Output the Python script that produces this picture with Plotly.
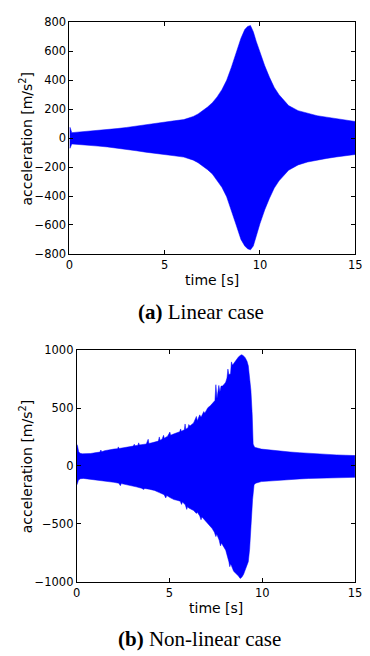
import plotly.graph_objects as go

# ---------------- (a) Linear case: envelope of acceleration ----------------
t_a = [0, 0.03, 0.12, 0.5, 1, 1.5, 2, 2.5, 3, 3.5, 4, 4.5, 5, 5.5, 6, 6.25, 6.5, 6.75, 7, 7.25, 7.5, 7.75,
       8, 8.25, 8.5, 8.75, 9, 9.2, 9.35, 9.5, 9.65, 9.8, 10, 10.25, 10.5, 10.75,
       11, 11.5, 12, 12.5, 13, 13.5, 14, 14.5, 15]
a_upper = [72, 75, 38, 42, 47, 52, 58, 66, 74, 84, 95, 104, 113, 120, 128, 138, 150, 167, 190, 215, 245, 285,
           335, 400, 490, 590, 690, 750, 772, 778, 735, 670, 590, 500, 420, 350,
           300, 225, 190, 170, 155, 145, 135, 125, 115]
a_lower = [-68, -70, -40, -44, -50, -55, -61, -69, -77, -87, -97, -106, -115, -122, -131, -140, -152, -170, -192, -218, -248, -290,
           -340, -405, -495, -600, -700, -745, -765, -772, -745, -680, -590, -495, -415, -345,
           -295, -222, -185, -165, -150, -140, -130, -120, -113]

# ---------------- (b) Non-linear case: envelope of acceleration ----------------
t_b_up = [0.00, 0.04, 0.10, 0.17, 0.30, 0.52, 0.75, 1.05, 1.25, 1.30, 1.34, 1.50, 1.75, 2.00, 2.20, 2.24, 2.28,
          2.50, 2.80, 3.05, 3.10, 3.14, 3.30, 3.34, 3.38, 3.55, 3.75, 3.85, 3.89, 4.05, 4.19, 4.40, 4.45, 4.49,
          4.60, 4.68, 4.72, 4.90, 5.02, 5.06, 5.25, 5.41, 5.55, 5.60, 5.64, 5.80, 5.84, 5.88, 6.00, 6.04, 6.10,
          6.30, 6.45, 6.50, 6.63, 6.70, 6.85, 6.90, 7.07, 7.20, 7.33, 7.45, 7.50, 7.56, 7.66, 7.72, 7.78, 7.85,
          7.95, 8.03, 8.10, 8.15, 8.20, 8.29, 8.34, 8.40, 8.50, 8.60, 8.73, 8.87, 8.97, 9.08, 9.18, 9.25, 9.32,
          9.39, 9.46, 9.51, 9.58, 9.63, 9.95, 10.5, 11, 11.5, 12, 12.5, 13, 13.5, 14, 14.5, 15]
b_upper = [188, 175, 125, 110, 105, 104, 108, 116, 120, 138, 122, 132, 142, 146, 150, 165, 151,
           156, 164, 172, 188, 174, 180, 200, 182, 186, 190, 231, 194, 200, 205, 215, 251, 222,
           232, 265, 240, 258, 293, 266, 278, 287, 296, 320, 300, 312, 363, 318, 330, 358, 345,
           372, 428, 390, 442, 420, 470, 455, 504, 520, 541, 565, 702, 583, 696, 640, 690, 690,
           705, 724, 760, 837, 790, 795, 899, 870, 893, 915, 944, 961, 955, 936, 905, 865, 780,
           653, 442, 189, 165, 160, 146, 135, 127, 121, 115, 109, 104, 100, 96, 93, 90]

t_b_lo = [0.00, 0.04, 0.09, 0.20, 0.35, 0.60, 1.05, 1.40, 1.75, 2.00, 2.27, 2.35, 2.40, 2.65, 2.97, 3.20,
          3.49, 3.62, 3.66, 3.90, 4.19, 4.45, 4.71, 4.80, 4.85, 5.05, 5.24, 5.40, 5.58, 5.65, 5.70, 5.85,
          5.93, 5.98, 6.02, 6.30, 6.45, 6.50, 6.63, 6.70, 6.75, 6.90, 7.16, 7.30, 7.42, 7.50, 7.55, 7.68,
          7.75, 7.80, 8.03, 8.15, 8.20, 8.25, 8.30, 8.46, 8.60, 8.73, 8.81, 8.90, 8.99, 9.10, 9.25, 9.32,
          9.39, 9.48, 9.56, 9.65, 9.95, 10.5, 11, 11.5, 12, 12.5, 13, 13.5, 14, 14.5, 15]
b_lower = [-165, -150, -121, -110, -107, -112, -121, -128, -135, -141, -149, -170, -152, -160, -172, -180,
           -192, -203, -194, -200, -211, -230, -248, -276, -255, -275, -290, -296, -304, -332, -312, -335,
           -375, -350, -361, -385, -410, -400, -431, -465, -440, -475, -516, -540, -572, -610, -590, -642,
           -690, -665, -727, -790, -826, -870, -845, -910, -935, -952, -972, -960, -938, -900, -826, -720,
           -572, -290, -163, -148, -135, -128, -122, -117, -112, -108, -105, -102, -100, -99, -98]

x_ticks = [0, 5, 10, 15]
ya_ticks = [-800, -600, -400, -200, 0, 200, 400, 600, 800]
yb_ticks = [-1000, -500, 0, 500, 1000]

W, H = 370, 656
BLUE = "#0000ff"
TICKFONT = dict(family="DejaVu Sans", size=11.5, color="black")
TITLEFONT = dict(family="DejaVu Sans", size=14, color="black")
CAPFONT = dict(family="Liberation Serif", size=21, color="black")

fig = go.Figure()
fig.add_trace(go.Scatter(
    x=t_a + t_a[::-1], y=a_upper + a_lower[::-1], fill="toself", fillcolor=BLUE,
    mode="lines", line=dict(color=BLUE, width=0.5), xaxis="x", yaxis="y",
    hoverinfo="skip", showlegend=False))
fig.add_trace(go.Scatter(
    x=t_b_up + t_b_lo[::-1], y=b_upper + b_lower[::-1], fill="toself", fillcolor=BLUE,
    mode="lines", line=dict(color=BLUE, width=0.5), xaxis="x2", yaxis="y2",
    hoverinfo="skip", showlegend=False))

axis_common = dict(showgrid=False, zeroline=False, showline=True, mirror="ticks",
                   linecolor="black", linewidth=1, ticks="inside", ticklen=4,
                   tickcolor="black", tickwidth=1, tickfont=TICKFONT)


def px(x):
    return x / W


def py(y):
    return 1 - y / H


fig.update_layout(
    width=W, height=H, margin=dict(l=0, r=0, t=0, b=0),
    paper_bgcolor="white", plot_bgcolor="white",
    xaxis=dict(domain=[px(67.5), px(362)], range=[0, 15], tickvals=x_ticks,
               anchor="y", **axis_common),
    yaxis=dict(domain=[py(252.3), py(15.7)], range=[-800, 800], tickvals=ya_ticks,
               anchor="x", **axis_common),
    xaxis2=dict(domain=[px(75), px(361.7)], range=[0, 15], tickvals=x_ticks,
                anchor="y2", **axis_common),
    yaxis2=dict(domain=[py(587.3), py(350.7)], range=[-1000, 1000], tickvals=yb_ticks,
                anchor="x2", **axis_common),
    annotations=[
        dict(text="acceleration [m/s<sup>2</sup>]", x=px(23), y=py(134), xref="paper", yref="paper",
             textangle=-90, showarrow=False, font=TITLEFONT, xanchor="center", yanchor="middle"),
        dict(text="time [s]", x=px(214.7), y=py(279), xref="paper", yref="paper",
             showarrow=False, font=TITLEFONT, xanchor="center", yanchor="middle"),
        dict(text="<b>(a)</b> Linear case", x=px(203), y=py(312), xref="paper", yref="paper",
             showarrow=False, font=CAPFONT, xanchor="center", yanchor="middle"),
        dict(text="acceleration [m/s<sup>2</sup>]", x=px(23), y=py(469), xref="paper", yref="paper",
             textangle=-90, showarrow=False, font=TITLEFONT, xanchor="center", yanchor="middle"),
        dict(text="time [s]", x=px(218.4), y=py(614), xref="paper", yref="paper",
             showarrow=False, font=TITLEFONT, xanchor="center", yanchor="middle"),
        dict(text="<b>(b)</b> Non-linear case", x=px(202), y=py(646), xref="paper", yref="paper",
             showarrow=False, font=CAPFONT, xanchor="center", yanchor="middle"),
    ],
)

fig.write_html("out.html")
